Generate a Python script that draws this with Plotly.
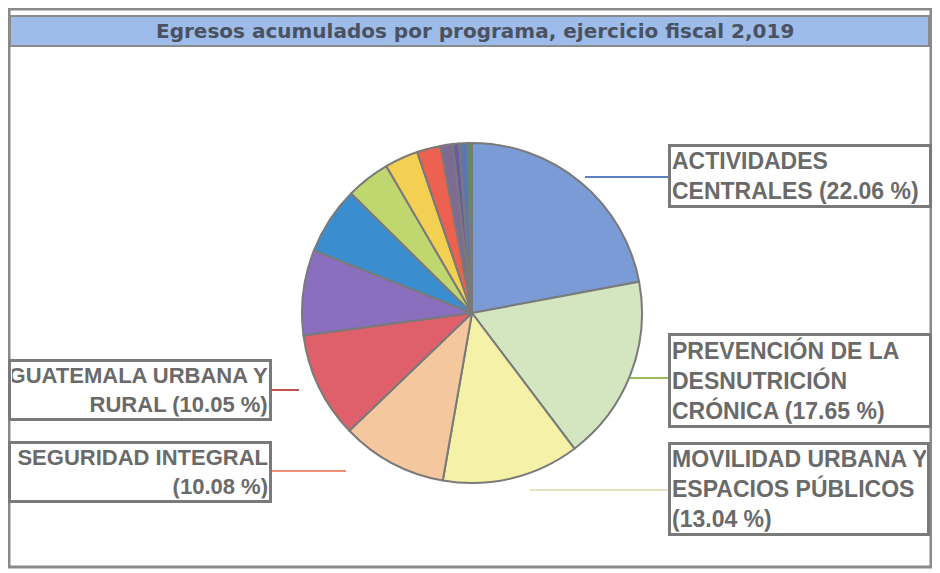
import plotly.graph_objects as go

# ---- data ----
programas = [
    "ACTIVIDADES CENTRALES",
    "PREVENCIÓN DE LA DESNUTRICIÓN CRÓNICA",
    "MOVILIDAD URBANA Y ESPACIOS PÚBLICOS",
    "SEGURIDAD INTEGRAL",
    "GUATEMALA URBANA Y RURAL",
    "Otro programa 1",
    "Otro programa 2",
    "Otro programa 3",
    "Otro programa 4",
    "Otro programa 5",
    "Otro programa 6",
    "Otro programa 7",
    "Otro programa 8",
    "Otro programa 9",
]
porcentajes = [22.06, 17.65, 13.04, 10.08, 10.05, 8.12, 6.41, 4.19, 3.18, 2.25, 1.17, 0.60, 0.80, 0.40]
colores = ["#7A9BD6", "#D3E6C0", "#F5F1A6", "#F5C79E", "#DF606B", "#8A6FBF",
           "#3A8ECF", "#C0D66E", "#F3CF52", "#EC614F", "#7C6B92", "#6A5AA0",
           "#5A78B0", "#4A9A60"]
titulo = "Egresos acumulados por programa, ejercicio fiscal 2,019"

OFF = 8  # page body margin
W, H = 940 - OFF, 573 - OFF

def px(x):
    return (x - OFF) / W

def py(y):
    return 1 - (y - OFF) / H

cx, cy, r = 472, 313, 170

fig = go.Figure()
fig.add_trace(go.Pie(
    labels=programas,
    values=porcentajes,
    sort=False,
    direction="clockwise",
    rotation=0,
    textinfo="none",
    marker=dict(colors=colores, line=dict(color="#7a7a7a", width=2)),
    domain=dict(x=[px(cx - r), px(cx + r)], y=[py(cy + r), py(cy - r)]),
    showlegend=False,
))

def etiqueta(text, x, y, xanchor, align, width, size=23):
    fig.add_annotation(
        x=px(x), y=py(y), xref="paper", yref="paper",
        text=text, showarrow=False, xanchor=xanchor, yanchor="middle",
        align=align, width=width,
        font=dict(family="Liberation Sans, Arial, sans-serif", size=size,
                  color="#6a6a6a", weight="bold"),
        bordercolor="#7a7a7a", borderwidth=3, borderpad=1, bgcolor="white",
    )

# label boxes
etiqueta("ACTIVIDADES<br>CENTRALES (22.06 %)", 668, 176, "left", "left", 256)
etiqueta("PREVENCIÓN DE LA<br>DESNUTRICIÓN<br>CRÓNICA (17.65 %)", 668, 380, "left", "left", 256)
etiqueta("MOVILIDAD URBANA Y<br>ESPACIOS PÚBLICOS<br>(13.04 %)", 668, 489, "left", "left", 254)
etiqueta("GUATEMALA URBANA Y<br>RURAL (10.05 %)", 272, 390, "right", "right", 256, 22)
etiqueta("SEGURIDAD INTEGRAL<br>(10.08 %)", 272, 472, "right", "right", 256, 22)

# leader lines
lineas = [
    (585, 177, 668, 177, "#5B7FC0"),
    (630, 378, 668, 378, "#9BBB59"),
    (530, 490, 668, 490, "#E6E2BE"),
    (272, 390, 299, 390, "#C0504D"),
    (272, 471, 346, 471, "#F0907A"),
]
shapes = []
for x0, y0, x1, y1, c in lineas:
    shapes.append(dict(type="line", xref="paper", yref="paper",
                       x0=px(x0), y0=py(y0), x1=px(x1), y1=py(y1),
                       line=dict(color=c, width=2), layer="below"))

# outer frame and title bar
shapes.append(dict(type="rect", xref="paper", yref="paper",
                   x0=px(9), y0=py(567), x1=px(931), y1=py(9),
                   line=dict(color="#8a8a8a", width=3), fillcolor="rgba(0,0,0,0)"))
shapes.append(dict(type="rect", xref="paper", yref="paper",
                   x0=px(10), y0=py(46), x1=px(929), y1=py(16),
                   line=dict(color="#8a8a8a", width=2), fillcolor="#9EBCEA", layer="below"))

fig.add_annotation(
    x=px(475), y=py(31), xref="paper", yref="paper", showarrow=False,
    text=titulo, xanchor="center", yanchor="middle",
    font=dict(family="DejaVu Sans, Verdana, sans-serif", size=20, color="#4a5262", weight="bold"),
)

fig.update_layout(
    width=W, height=H,
    margin=dict(l=0, r=0, t=0, b=0),
    paper_bgcolor="white",
    plot_bgcolor="white",
    shapes=shapes,
)

fig.write_html("out.html")
